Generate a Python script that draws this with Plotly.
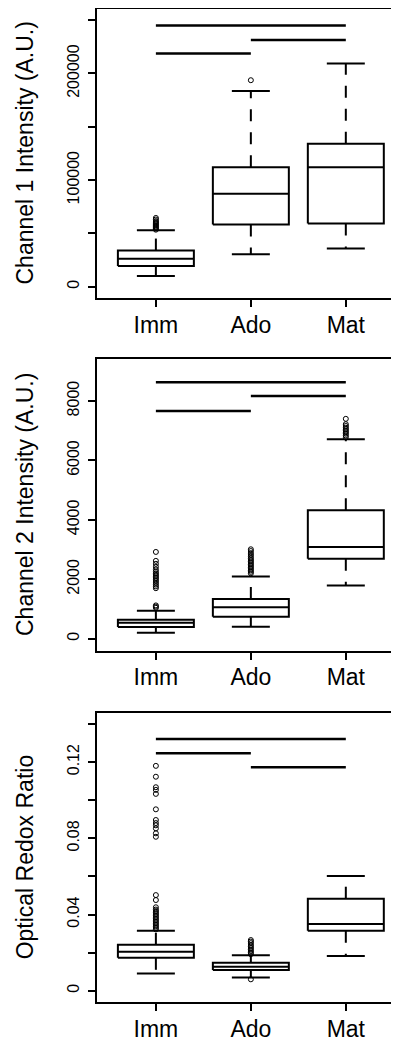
import plotly.graph_objects as go
from plotly.subplots import make_subplots

# ---------------- data ----------------
groups = ["Imm", "Ado", "Mat"]

# Panel 1: Channel 1 Intensity
ch1_low = [10000, 30500, 35800]
ch1_q1 = [19500, 58400, 59300]
ch1_med = [26200, 87200, 112000]
ch1_q3 = [33900, 112000, 134200]
ch1_high = [52900, 183600, 209300]
ch1_out_imm = [53500, 54500, 55500, 56500, 57500, 58500, 59500, 60500, 61500, 63000, 64500]
ch1_out_ado = [193700]
ch1_out_mat = []
# heights of comparison bars: Imm-Mat, Ado-Mat, Imm-Ado
ch1_sig = [245000, 231500, 218800]

# Panel 2: Channel 2 Intensity
ch2_low = [200, 400, 1790]
ch2_q1 = [390, 740, 2690]
ch2_med = [535, 1057, 3090]
ch2_q3 = [640, 1337, 4320]
ch2_high = [940, 2090, 6710]
ch2_out_imm = [1040, 1080, 1120, 1700, 1760, 1820, 1880, 1940, 2000, 2050, 2100, 2150, 2200,
               2260, 2330, 2420, 2520, 2620, 2920]
ch2_out_ado = [2200, 2250, 2300, 2350, 2400, 2450, 2500, 2550, 2600, 2650, 2700, 2760, 2820,
               2880, 2950, 3010]
ch2_out_mat = [6780, 6840, 6900, 6950, 7000, 7050, 7100, 7160, 7220, 7400]
ch2_sig = [8633, 8172, 7667]

# Panel 3: Optical Redox Ratio
orr_low = [0.0091, 0.0070, 0.0182]
orr_q1 = [0.0173, 0.0109, 0.0315]
orr_med = [0.0205, 0.0126, 0.0350]
orr_q3 = [0.0241, 0.0147, 0.0483]
orr_high = [0.0315, 0.0186, 0.0602]
orr_out_imm = [0.0322, 0.0330, 0.0338, 0.0346, 0.0354, 0.0362, 0.0370, 0.0378, 0.0386,
               0.0394, 0.0402, 0.0410, 0.0418, 0.0426, 0.0438, 0.0476, 0.0502,
               0.0808, 0.0826, 0.0852, 0.0868, 0.0880, 0.0896, 0.0952, 0.1033, 0.1054,
               0.1068, 0.1123, 0.1180]
orr_out_ado = [0.0060, 0.0192, 0.0200, 0.0208, 0.0216, 0.0224, 0.0232, 0.0240, 0.0250,
               0.0258, 0.0266]
orr_out_mat = []
orr_sig = [0.1321, 0.1173, 0.1246]

sig_pairs = [(1, 3), (2, 3), (1, 2)]

y_titles = ["Channel 1 Intensity (A.U.)", "Channel 2 Intensity (A.U.)", "Optical Redox Ratio"]
y_tickvals = [
    [0, 50000, 100000, 150000, 200000, 250000],
    [0, 2000, 4000, 6000, 8000],
    [0, 0.02, 0.04, 0.06, 0.08, 0.10, 0.12, 0.14],
]
y_ticktext = [
    ["0", "", "100000", "", "200000", ""],
    ["0", "2000", "4000", "6000", "8000"],
    ["0", "", "0.04", "", "0.08", "", "0.12", ""],
]
y_ranges = [[-10600, 260500], [-404, 9404], [-0.0059, 0.1459]]

panels = [
    (ch1_low, ch1_q1, ch1_med, ch1_q3, ch1_high, [ch1_out_imm, ch1_out_ado, ch1_out_mat], ch1_sig),
    (ch2_low, ch2_q1, ch2_med, ch2_q3, ch2_high, [ch2_out_imm, ch2_out_ado, ch2_out_mat], ch2_sig),
    (orr_low, orr_q1, orr_med, orr_q3, orr_high, [orr_out_imm, orr_out_ado, orr_out_mat], orr_sig),
]

# ---------------- styling ----------------
FONT = "Liberation Sans, Arial, sans-serif"
LW = 2
HALF_BOX = 0.4
HALF_CAP = 0.2
OFF = 8                      # default page body margin
W, H = 399 - OFF, 1040 - OFF
ML, MR, MT, MB = 97 - OFF, 0, 1, 38
plot_h = H - MT - MB


def py(px_page):
    return (H - MB - (px_page - OFF)) / plot_h


domains = [[py(298), 1.0], [py(650.7), py(359.3)], [0.0, py(712.7)]]

fig = make_subplots(rows=3, cols=1)

for r, (low, q1, med, q3, high, outs, sig) in enumerate(panels, start=1):
    xs = [1, 2, 3]
    bx, by = [], []
    for i, x in enumerate(xs):
        bx += [x - HALF_BOX, x + HALF_BOX, x + HALF_BOX, x - HALF_BOX, x - HALF_BOX, None]
        by += [q1[i], q1[i], q3[i], q3[i], q1[i], None]
        bx += [x - HALF_BOX, x + HALF_BOX, None]
        by += [med[i], med[i], None]
        bx += [x - HALF_CAP, x + HALF_CAP, None, x - HALF_CAP, x + HALF_CAP, None]
        by += [low[i], low[i], None, high[i], high[i], None]
    fig.add_trace(go.Scatter(x=bx, y=by, mode="lines", line=dict(color="black", width=LW),
                             showlegend=False, hoverinfo="skip"), row=r, col=1)
    for i, x in enumerate(xs):
        for a, b in ((q3[i], high[i]), (q1[i], low[i])):
            fig.add_trace(go.Scatter(x=[x, x], y=[a, b], mode="lines",
                                     line=dict(color="black", width=LW, dash="12px,11px"),
                                     showlegend=False, hoverinfo="skip"), row=r, col=1)
    for i, x in enumerate(xs):
        if outs[i]:
            fig.add_trace(go.Scatter(x=[x] * len(outs[i]), y=outs[i], mode="markers",
                                     marker=dict(symbol="circle-open", size=5, color="black",
                                                 line=dict(width=1)),
                                     showlegend=False, hoverinfo="skip"), row=r, col=1)
    sx, sy = [], []
    for (a, b), h in zip(sig_pairs, sig):
        sx += [a, b, None]
        sy += [h, h, None]
    fig.add_trace(go.Scatter(x=sx, y=sy, mode="lines", line=dict(color="black", width=2.5),
                             showlegend=False, hoverinfo="skip"), row=r, col=1)

    fig.update_xaxes(row=r, col=1, range=[0.38, 3.56], domain=[0, 1],
                     tickvals=[1, 2, 3], ticktext=groups, ticks="outside", ticklen=7,
                     tickwidth=1.5, tickcolor="black", showline=True, linecolor="black",
                     linewidth=LW, mirror=True, showgrid=False, zeroline=False,
                     ticklabelstandoff=-2,
                     tickfont=dict(family=FONT, size=23, color="black"))
    fig.update_yaxes(row=r, col=1, range=y_ranges[r - 1], domain=domains[r - 1],
                     tickvals=y_tickvals[r - 1], ticktext=y_ticktext[r - 1],
                     ticks="outside", ticklen=7, tickwidth=1.5, tickcolor="black",
                     showline=True, linecolor="black", linewidth=LW, mirror=False,
                     showgrid=False, zeroline=False, tickangle=-90, ticklabelstandoff=3,
                     tickfont=dict(family=FONT, size=16, color="black"))
    d = domains[r - 1]
    fig.add_annotation(text=y_titles[r - 1], xref="paper", yref="paper",
                       x=(25 - 97) / (W - ML - MR), y=(d[0] + d[1]) / 2,
                       xanchor="center", yanchor="middle", textangle=-90, showarrow=False,
                       font=dict(family=FONT, size=23, color="black"))

fig.update_layout(width=W, height=H, autosize=False,
                  margin=dict(l=ML, r=MR, t=MT, b=MB, autoexpand=False),
                  plot_bgcolor="white", paper_bgcolor="white", showlegend=False)

fig.write_html("out.html")
